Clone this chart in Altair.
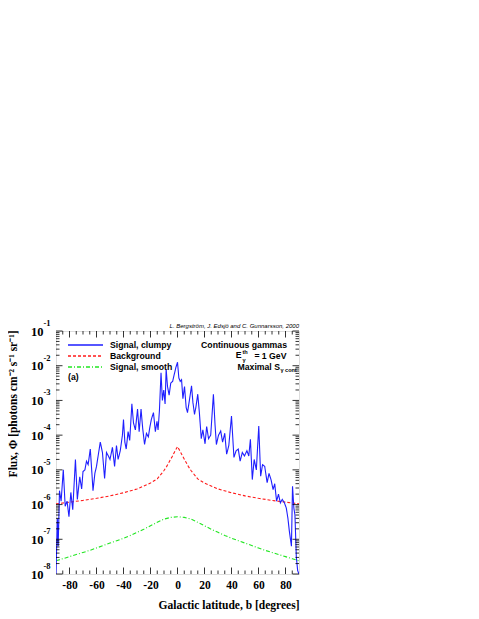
import altair as alt
import pandas as pd

# ---- data (galactic latitude b [deg], log10 flux) ----
clumpy_b = [-90, -89, -88.4, -87.4, -86.2, -84.6, -83.2, -81.8, -80.4, -79, -77.6, -75.6, -74.2, -72.4, -71, -70,
            -68.6, -67.4, -66.2, -64.6, -63.4, -62.6, -61.2, -60, -58.6, -57.2, -55.6, -54, -52.6, -51.2, -50,
            -48.2, -46.6, -45.2, -44, -42.4, -40.8, -40, -39, -38, -36.6, -35.4, -33.8, -32.6, -31.2, -29.6,
            -28.4, -27, -25.8, -24.4, -23, -21.6, -20.6, -19.4, -17.8, -16.4, -15.2, -14.4, -13.4, -12.2, -11.2,
            -10.2, -9.2, -8.4, -7.4, -6.2, -5, -3.6, -2.4, -1.2, 0, 1, 2, 3, 4, 5.2, 6.4, 7.4, 8.8, 10.4, 11.4,
            12.6, 13.6, 15, 16.2, 17.6, 18.8, 20.4, 21.6, 23, 24.6, 26.6, 27.8, 28.8, 30.4, 32, 33.4, 35, 36.4,
            38, 40, 41.8, 43.4, 45, 46.4, 48, 49.6, 51.4, 52.8, 54, 55.4, 56.8, 58.4, 60.2, 61.6, 63, 64.6, 66.4,
            67.8, 69.4, 70.8, 72, 73.4, 74.8, 76.2, 77.6, 79.2, 80.6, 81.8, 82.8, 84.4, 85.2, 86.2, 87, 88, 89, 90]
clumpy_log = [-8.0, -6.4, -7.2, -5.6, -5.9, -5.0, -6.05, -5.9, -6.35, -5.65, -6.15, -4.7, -5.85, -5.2, -5.55, -5.05,
              -5.0, -4.75, -4.85, -4.4, -5.1, -5.6, -5.1, -4.9, -4.55, -4.2, -4.5, -5.25, -4.5, -4.6, -4.7,
              -4.35, -4.9, -4.3, -4.7, -4.45, -4.0, -3.55, -4.2, -4.4, -3.9, -4.15, -3.1, -3.65, -3.85, -3.25,
              -3.9, -3.25, -3.8, -4.27, -3.95, -4.05, -3.8, -3.55, -3.35, -3.9, -3.6, -3.85, -3.3, -2.2, -3.0,
              -2.7, -3.1, -2.1, -2.6, -2.85, -2.5, -2.45, -2.25, -2.05, -1.9, -2.35, -2.45, -2.4, -2.95, -2.6,
              -3.2, -3.35, -3.0, -2.58, -3.05, -3.4, -3.2, -2.82, -3.35, -4.1, -3.85, -4.25, -3.75, -4.1, -4.0,
              -2.82, -3.7, -4.27, -4.0, -3.88, -4.2, -3.95, -4.55, -4.3, -3.45, -4.64, -4.45, -4.4, -4.75, -4.5,
              -4.6, -4.45, -4.6, -4.12, -5.28, -4.7, -5.0, -3.74, -5.18, -4.85, -4.9, -5.37, -5.1, -5.3, -5.57,
              -5.4, -5.9, -5.7, -5.95, -5.85, -5.95, -6.1, -6.4, -6.75, -7.2, -5.47, -6.1, -6.3, -7.5, -7.9, -8.0]

bg_b = [-90, -80, -70, -60, -50, -40, -30, -20, -15, -10, -8, -6, -4, -2, -1, 0,
        1, 2, 4, 6, 8, 10, 15, 20, 30, 40, 50, 60, 70, 80, 90]
bg_log = [-5.98, -5.93, -5.88, -5.82, -5.75, -5.66, -5.55, -5.38, -5.26, -5.02, -4.9, -4.76, -4.62, -4.47, -4.4, -4.33,
          -4.4, -4.47, -4.62, -4.76, -4.9, -5.02, -5.26, -5.38, -5.55, -5.66, -5.75, -5.82, -5.88, -5.93, -5.98]

smooth_b = [-90, -85, -80, -75, -70, -65, -60, -55, -50, -45, -40, -35, -30, -25, -20, -15, -10, -5, 0,
            5, 10, 15, 20, 25, 30, 35, 40, 45, 50, 55, 60, 65, 70, 75, 80, 85, 90]
smooth_log = [-7.62, -7.56, -7.50, -7.44, -7.38, -7.32, -7.25, -7.18, -7.11, -7.04, -6.97, -6.89, -6.80, -6.71,
              -6.61, -6.51, -6.42, -6.37, -6.35, -6.37, -6.42, -6.51, -6.61, -6.71, -6.80, -6.89, -6.97, -7.04,
              -7.11, -7.18, -7.25, -7.32, -7.38, -7.44, -7.50, -7.56, -7.62]

series_names = ["Signal, clumpy", "Background", "Signal, smooth"]
series_colors = ["#1f1fff", "#ff1a1a", "#22e622"]
series_dash = [[1, 0], [3, 2], [4, 2, 1, 2]]

x_labels = [-80, -60, -40, -20, 0, 20, 40, 60, 80]
x_minor = [-85, -75, -70, -65, -55, -50, -45, -35, -30, -25, -15, -10, -5,
           5, 10, 15, 25, 30, 35, 45, 50, 55, 65, 70, 75, 85]
y_exponents = [-1, -2, -3, -4, -5, -6, -7, -8]
y_minor_mult = [2, 3, 4, 5, 6, 7, 8, 9]

# ---- tables ----
rows = []
for name, bs, ls in [(series_names[1], bg_b, bg_log), (series_names[2], smooth_b, smooth_log),
                     (series_names[0], clumpy_b, clumpy_log)]:
    for b, l in zip(bs, ls):
        rows.append({"series": name, "b": b, "flux": 10.0 ** l})
df = pd.DataFrame(rows)

y_major_df = pd.DataFrame({"v": [10.0 ** e for e in y_exponents],
                           "lab": [str(e) for e in y_exponents]})
y_minor_df = pd.DataFrame({"v": [m * 10.0 ** e for e in y_exponents[1:] for m in y_minor_mult]})
x_major_df = pd.DataFrame({"v": x_labels})
x_minor_df = pd.DataFrame({"v": x_minor})

W, H = 243, 243
SERIF = "Liberation Serif"
SANS = "Liberation Sans"
xs = alt.Scale(domain=[-90, 90], nice=False, zero=False)
ys = alt.Scale(type="log", domain=[1e-8, 1e-1], nice=False)

legend = alt.Legend(title=None, orient="none", legendX=11, legendY=8.8, symbolType="stroke",
                    symbolSize=1225, symbolStrokeWidth=1.5, clipHeight=10.4, rowPadding=0,
                    labelFont=SANS, labelFontWeight="bold", labelFontSize=8.7, labelOffset=6,
                    labelColor="black", padding=0)

lines = alt.Chart(df).mark_line(strokeWidth=1.1, clip=True).encode(
    x=alt.X("b:Q", scale=xs,
            axis=alt.Axis(values=x_labels, ticks=False, domain=False, grid=False,
                          labelExpr="datum.value < 0 ? '-' + abs(datum.value) : '' + datum.value",
                          labelFont=SERIF, labelFontWeight="bold", labelFontSize=11.5, labelColor="black",
                          labelPadding=5, title="Galactic latitude, b [degrees]", titleFont=SERIF,
                          titleFontWeight="bold", titleFontSize=11.5, titleColor="black",
                          titleX=W, titleY=31, titleAlign="right", titleBaseline="middle")),
    y=alt.Y("flux:Q", scale=ys,
            axis=alt.Axis(values=[10.0 ** e for e in y_exponents], ticks=False, domain=False, grid=False,
                          orient="left",
                          labelExpr="'10'", labelFont=SERIF, labelFontWeight="bold", labelFontSize=12.5,
                          labelColor="black", labelPadding=13,
                          title="Flux, Φ [photons cm⁻² s⁻¹ sr⁻¹]", titleFont=SERIF, titleFontWeight="bold",
                          titleFontSize=11.5, titleColor="black", titleX=-43, titleY=-1,
                          titleAlign="right", titleAngle=270, titleBaseline="middle")),
    color=alt.Color("series:N", scale=alt.Scale(domain=series_names, range=series_colors), legend=legend),
    strokeDash=alt.StrokeDash("series:N", scale=alt.Scale(domain=series_names, range=series_dash),
                              legend=legend),
)

exps = alt.Chart(y_major_df).mark_text(align="right", baseline="middle", dy=-8, font=SERIF,
                                       fontWeight="bold", fontSize=8.5, color="black").encode(
    y=alt.Y("v:Q", scale=ys, axis=None), x=alt.value(-5.5), text="lab:N")

def yticks(data, length):
    left = alt.Chart(data).mark_rule(color="black", strokeWidth=0.8).encode(
        y=alt.Y("v:Q", scale=ys, axis=None), x=alt.value(0), x2=alt.value(length))
    right = alt.Chart(data).mark_rule(color="black", strokeWidth=0.8).encode(
        y=alt.Y("v:Q", scale=ys, axis=None), x=alt.value(W), x2=alt.value(W - length))
    return [left, right]

def xticks(data, length):
    bottom = alt.Chart(data).mark_rule(color="black", strokeWidth=0.8).encode(
        x=alt.X("v:Q", scale=xs, axis=None), y=alt.value(H), y2=alt.value(H - length))
    top = alt.Chart(data).mark_rule(color="black", strokeWidth=0.8).encode(
        x=alt.X("v:Q", scale=xs, axis=None), y=alt.value(0), y2=alt.value(length))
    return [bottom, top]

def label(text, x, y, size=8.7, align="left", style="normal", weight="bold"):
    return alt.Chart(pd.DataFrame({"t": [text]})).mark_text(
        align=align, baseline="middle", font=SANS, fontSize=size, fontWeight=weight,
        fontStyle=style, color="black").encode(text="t:N", x=alt.value(x), y=alt.value(y))

annotations = [
    label("L. Bergström, J. Edsjö and C. Gunnarsson, 2000", W, -5, size=6, align="right",
          style="italic", weight="normal"),
    label("(a)", 12, 46),
    label("Continuous gammas", 231, 13.6, align="right"),
    label("E", 185.5, 24.3, align="right"),
    label("th", 186.5, 20.8, size=5.6),
    label("γ", 186.5, 28.6, size=5.6),
    label("= 1 GeV", 230.5, 24.5, align="right"),
    label("Maximal S", 224, 35.7, align="right"),
    label("γ cont", 224.5, 38.5, size=5.5),
]

layers = ([lines] + yticks(y_major_df, 6.5) + yticks(y_minor_df, 3.5) + xticks(x_major_df, 6.5)
          + xticks(x_minor_df, 3.5) + [exps] + annotations)

chart = alt.layer(*layers).resolve_axis(x="independent", y="independent").properties(
    width=W, height=H,
    autosize=alt.AutoSizeParams(type="none"),
    padding={"left": 48, "top": 323, "right": 20, "bottom": 40},
).configure_view(stroke="black", strokeWidth=1).configure(background="white")

chart.save("out.html", embed_options={"renderer": "svg", "actions": False})
